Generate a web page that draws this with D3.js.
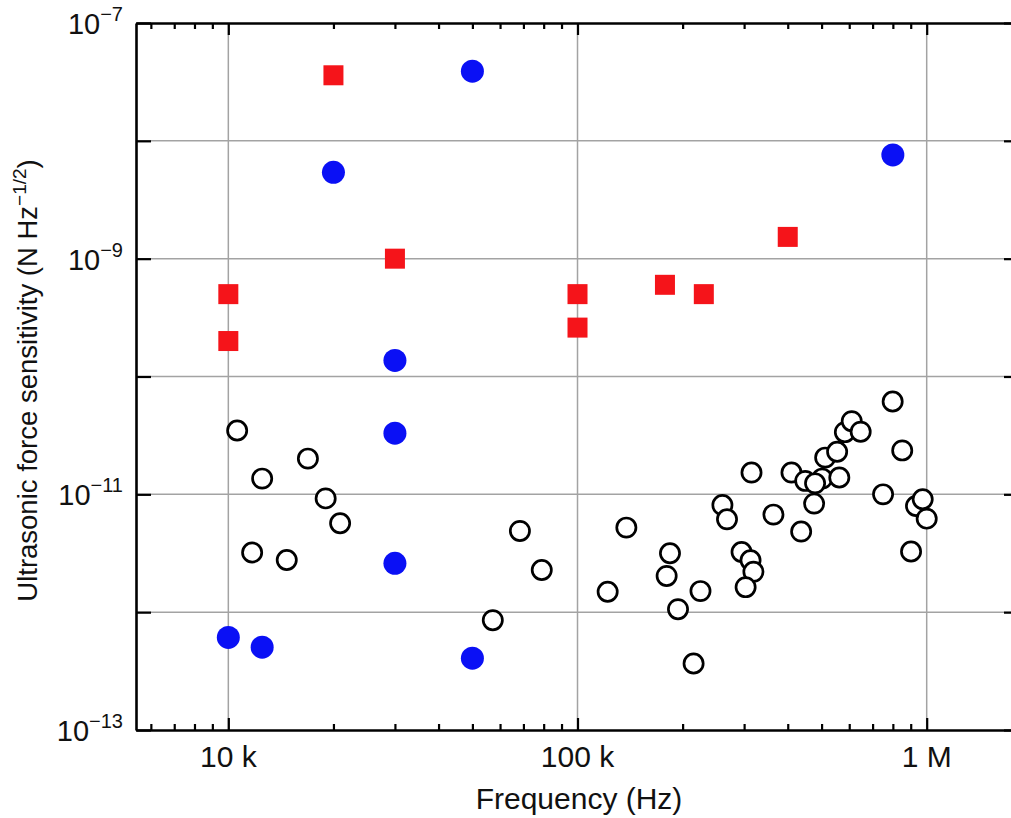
<!DOCTYPE html>
<html><head><meta charset="utf-8">
<script src="https://cdn.jsdelivr.net/npm/d3@7"></script>
<style>
html,body{margin:0;padding:0;background:#fff;}
svg{display:block;font-family:"Liberation Sans",Arial,Helvetica,sans-serif;}
</style></head>
<body>
<svg id="chart" width="1011" height="818"></svg>
<script>
// ---- data ----
const redFreq = [20e3, 10e3, 10e3, 30e3, 100e3, 100e3, 178e3, 230e3, 400e3];
const redSens = [3.6e-8, 5.0e-10, 2.0e-10, 1.0e-9, 5.0e-10, 2.6e-10, 6.0e-10, 5.0e-10, 1.53e-9];

const blueFreq = [50e3, 20e3, 800e3, 30e3, 30e3, 30e3, 10e3, 12.5e3, 50e3];
const blueSens = [3.9e-8, 5.4e-9, 7.6e-9, 1.37e-10, 3.3e-11, 2.6e-12, 6.1e-13, 5.05e-13, 4.07e-13];

const openFreq = [10.6e3, 16.9e3, 12.5e3, 19.0e3, 20.9e3, 11.7e3, 14.7e3, 68.4e3, 79.0e3, 57.2e3,
  122e3, 138e3, 184e3, 180e3, 194e3, 225e3, 215e3, 260e3, 268e3, 295e3, 313e3, 319e3, 303e3,
  315e3, 364e3, 410e3, 437e3, 449e3, 476e3, 502e3, 479e3, 512e3, 554e3, 562e3, 583e3, 610e3,
  647e3, 750e3, 799e3, 851e3, 902e3, 932e3, 974e3, 1000e3];
const openSens = [3.48e-11, 2.01e-11, 1.36e-11, 9.24e-12, 5.68e-12, 3.21e-12, 2.77e-12, 4.89e-12,
  2.28e-12, 8.55e-13, 1.49e-12, 5.22e-12, 3.16e-12, 2.03e-12, 1.06e-12, 1.51e-12, 3.67e-13,
  8.11e-12, 6.14e-12, 3.24e-12, 2.76e-12, 2.20e-12, 1.63e-12, 1.53e-11, 6.73e-12, 1.53e-11,
  4.83e-12, 1.30e-11, 8.34e-12, 1.36e-11, 1.24e-11, 2.05e-11, 2.30e-11, 1.39e-11, 3.37e-11,
  4.18e-11, 3.40e-11, 1.0e-11, 6.14e-11, 2.36e-11, 3.27e-12, 7.96e-12, 9.08e-12, 6.22e-12];

const xDomain = [5440, 1.838e6];
const yDomain = [1e-13, 1e-7];
const xMajor = [1e4, 1e5, 1e6];
const xMajorLabels = ["10 k", "100 k", "1 M"];
const xMinor = [6e3,7e3,8e3,9e3,2e4,3e4,4e4,5e4,6e4,7e4,8e4,9e4,2e5,3e5,4e5,5e5,6e5,7e5,8e5,9e5];
const yMajor = [1e-13,1e-12,1e-11,1e-10,1e-9,1e-8,1e-7];
const yLabelExp = [-7, -9, -11, -13];
const xTitle = "Frequency (Hz)";

// ---- layout ----
const L = 136, R = 1019, T = 23, B = 730;
const svg = d3.select("#chart");
const x = d3.scaleLog().domain(xDomain).range([L, R]);
const y = d3.scaleLog().domain(yDomain).range([B, T]);

// grid
const grid = svg.append("g").attr("stroke", "#a3a3a3").attr("stroke-width", 1.5);
grid.selectAll("line.v").data(xMajor).join("line")
  .attr("x1", d => x(d)).attr("x2", d => x(d)).attr("y1", T).attr("y2", B);
grid.selectAll("line.h").data(yMajor.slice(1, -1)).join("line")
  .attr("y1", d => y(d)).attr("y2", d => y(d)).attr("x1", L).attr("x2", R);

// axes
function styleAxis(g){
  g.select(".domain").attr("stroke", "#000").attr("stroke-width", 2.6);
  g.selectAll(".tick line").attr("stroke", "#000").attr("stroke-width", 2.2);
  g.selectAll(".tick text").remove();
}
const bottomMajor = svg.append("g").attr("transform", `translate(0,${B})`)
  .call(d3.axisBottom(x).tickValues(xMajor).tickSizeInner(-12).tickSizeOuter(0).tickFormat(""));
styleAxis(bottomMajor);
const bottomMinor = svg.append("g").attr("transform", `translate(0,${B})`)
  .call(d3.axisBottom(x).tickValues(xMinor).tickSizeInner(-6).tickSizeOuter(0).tickFormat(""));
styleAxis(bottomMinor); bottomMinor.select(".domain").remove();
const topMajor = svg.append("g").attr("transform", `translate(0,${T})`)
  .call(d3.axisTop(x).tickValues(xMajor).tickSizeInner(-12).tickSizeOuter(0).tickFormat(""));
styleAxis(topMajor);
const topMinor = svg.append("g").attr("transform", `translate(0,${T})`)
  .call(d3.axisTop(x).tickValues(xMinor).tickSizeInner(-6).tickSizeOuter(0).tickFormat(""));
styleAxis(topMinor); topMinor.select(".domain").remove();
const leftAx = svg.append("g").attr("transform", `translate(${L},0)`)
  .call(d3.axisLeft(y).tickValues(yMajor).tickSizeInner(-15).tickSizeOuter(0).tickFormat(""));
styleAxis(leftAx);
const rightAx = svg.append("g").attr("transform", `translate(${R},0)`)
  .call(d3.axisRight(y).tickValues(yMajor).tickSizeInner(-15).tickSizeOuter(0).tickFormat(""));
styleAxis(rightAx);

// x tick labels
svg.append("g").selectAll("text").data(xMajor).join("text")
  .attr("x", d => x(d)).attr("y", 767)
  .attr("text-anchor", "middle").attr("font-size", 30).attr("fill", "#111")
  .text((d, i) => xMajorLabels[i]);

// y tick labels
const yl = svg.append("g").selectAll("text").data(yLabelExp).join("text")
  .attr("x", 123).attr("y", d => y(Math.pow(10, d)) + 11)
  .attr("text-anchor", "end").attr("font-size", 29).attr("fill", "#111");
yl.append("tspan").text("10");
yl.append("tspan").attr("dy", -13).attr("font-size", 20).text(d => "\u2212" + Math.abs(d));

// axis titles
svg.append("text").attr("x", 579).attr("y", 809)
  .attr("text-anchor", "middle").attr("font-size", 30).attr("fill", "#111").text(xTitle);
const yt = svg.append("text").attr("transform", `translate(37,${(T + B) / 2 + 4}) rotate(-90)`)
  .attr("text-anchor", "middle").attr("font-size", 27.5).attr("fill", "#111");
yt.append("tspan").text("Ultrasonic force sensitivity (N Hz");
yt.append("tspan").attr("dy", -11).attr("font-size", 19).text("\u22121/2");
yt.append("tspan").attr("dy", 11).text(")");

// points
const openData = openFreq.map((f, i) => ({f, s: openSens[i]}));
const blueData = blueFreq.map((f, i) => ({f, s: blueSens[i]}));
const redData = redFreq.map((f, i) => ({f, s: redSens[i]}));

svg.append("g").selectAll("circle").data(openData).join("circle")
  .attr("cx", d => x(d.f)).attr("cy", d => y(d.s)).attr("r", 9.6)
  .attr("fill", "#fff").attr("stroke", "#000").attr("stroke-width", 2.7);

svg.append("g").selectAll("circle").data(blueData).join("circle")
  .attr("cx", d => x(d.f)).attr("cy", d => y(d.s)).attr("r", 11.5)
  .attr("fill", "#0a10f5");

const sq = 20;
svg.append("g").selectAll("rect").data(redData).join("rect")
  .attr("x", d => x(d.f) - sq / 2).attr("y", d => y(d.s) - sq / 2)
  .attr("width", sq).attr("height", sq).attr("fill", "#f5141a");
</script>
</body></html>
